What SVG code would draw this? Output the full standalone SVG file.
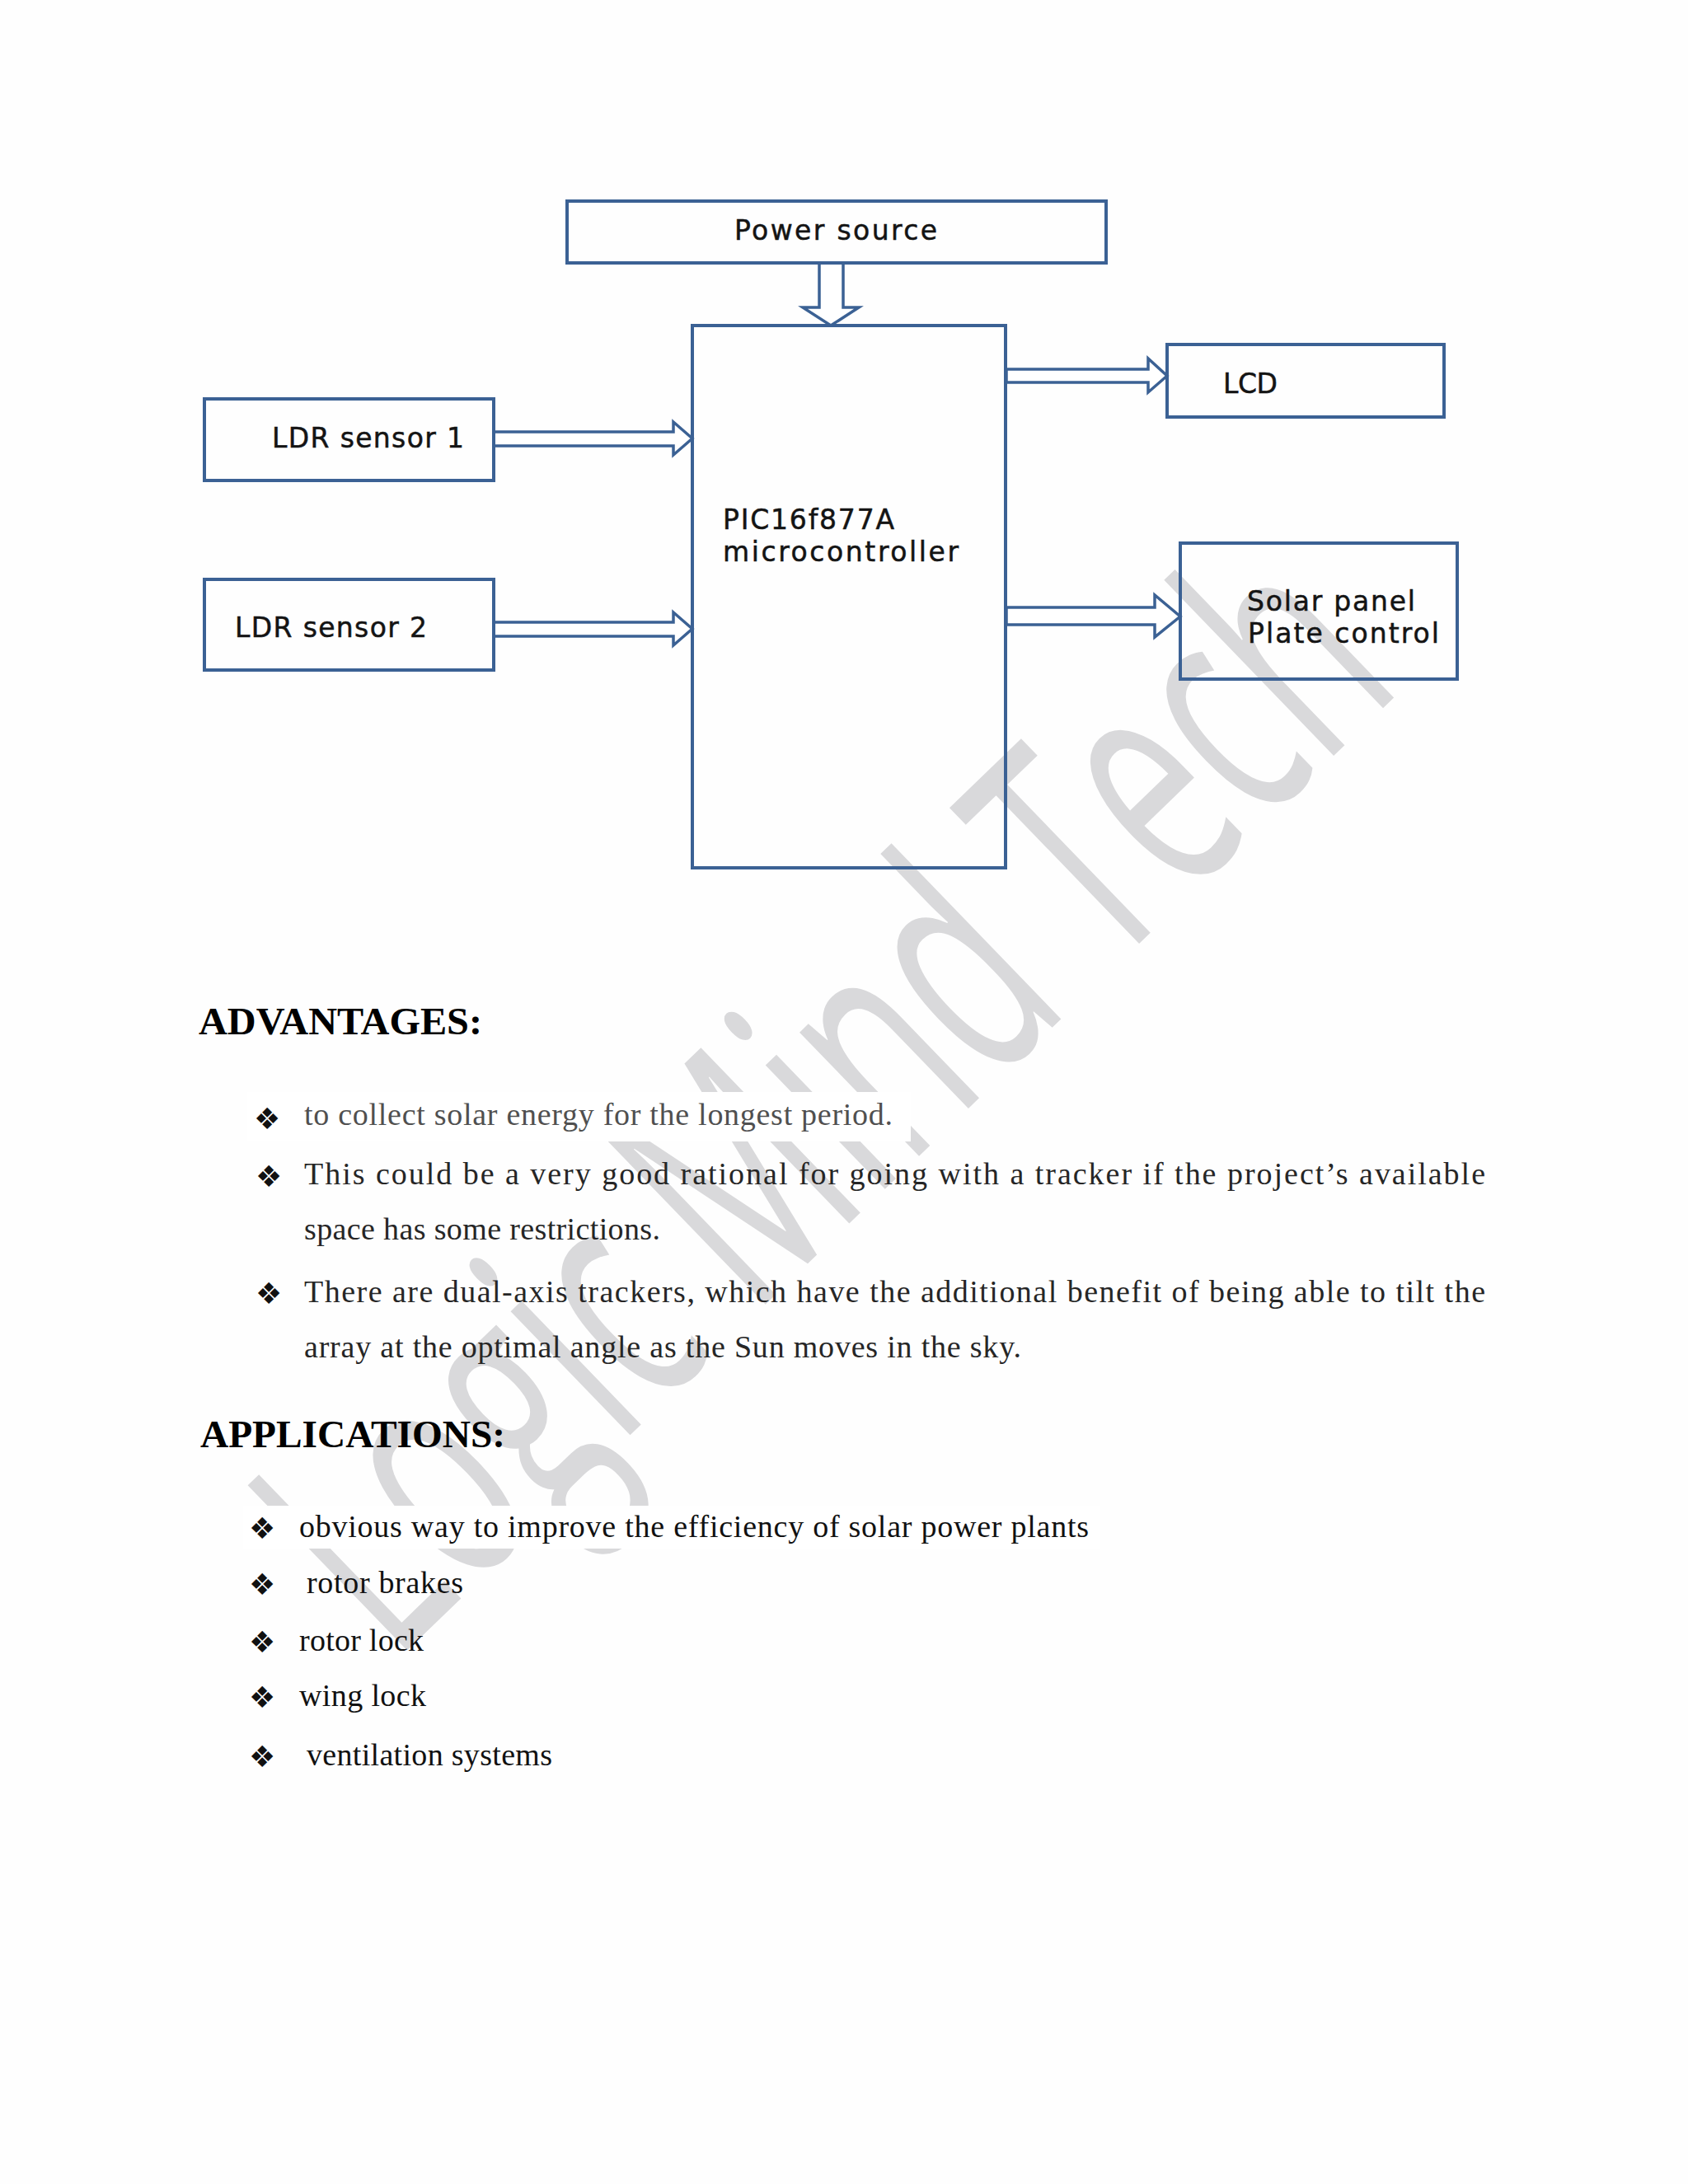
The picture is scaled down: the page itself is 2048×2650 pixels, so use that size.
<svg xmlns="http://www.w3.org/2000/svg" width="2048" height="2650" viewBox="0 0 2048 2650">
<style>
.box{fill:none;stroke:#3B6194;stroke-width:4}
.arr{fill:#ffffff;stroke:#3B6194;stroke-width:3.5;stroke-linejoin:miter}
.lbl{font-family:"DejaVu Sans",Verdana,sans-serif;font-size:33px;fill:#141414;stroke:#141414;stroke-width:0.5}
.hd{font-family:"Liberation Serif","Times New Roman",serif;font-weight:bold;font-size:46px;fill:#000000}
.bd{font-family:"Liberation Serif","Times New Roman",serif;font-size:38px;fill:#262626}
.bul{font-family:"DejaVu Sans",sans-serif;font-size:36px;fill:#111111}
.wm{font-family:"Open Sans","Liberation Sans",sans-serif;font-size:390px;fill:#d9d9db}
</style>
<rect x="0" y="0" width="2048" height="2650" fill="#fefefe"/>
<g id="watermark">
<text class="wm" transform="translate(478,2018) rotate(-44)" textLength="1705" lengthAdjust="spacingAndGlyphs">Logic Mind Tech</text>
</g>
<rect x="300" y="1325" width="805" height="60" fill="#ffffff"/>
<rect x="295" y="1827" width="1040" height="52" fill="#ffffff"/>
<g id="connectors">
<polygon class="arr" points="994,319 994,373 974,373 1008,395 1042,373 1023,373 1023,319"/>
<polygon class="arr" points="599,524 817,524 817,512 840,532 817,552 817,541 599,541"/>
<polygon class="arr" points="599,755 817,755 817,743 840,763 817,783 817,772 599,772"/>
<polygon class="arr" points="1221,448 1393,448 1393,435 1416,456 1393,476 1393,464 1221,464"/>
<polygon class="arr" points="1221,737 1401,737 1401,722 1432,748 1401,773 1401,758 1221,758"/>
</g>
<g id="power-source">
<rect class="box" x="688" y="244" width="654" height="75"/>
<text class="lbl" x="891" y="291" textLength="246" lengthAdjust="spacing">Power source</text>
</g>
<g id="microcontroller">
<rect class="box" x="840" y="395" width="380" height="658"/>
<text class="lbl" x="877" y="642" textLength="208" lengthAdjust="spacing">PIC16f877A</text>
<text class="lbl" x="877" y="681" textLength="286" lengthAdjust="spacing">microcontroller</text>
</g>
<g id="ldr1">
<rect class="box" x="248" y="484" width="351" height="99"/>
<text class="lbl" x="330" y="543" textLength="233" lengthAdjust="spacing">LDR sensor 1</text>
</g>
<g id="ldr2">
<rect class="box" x="248" y="703" width="351" height="110"/>
<text class="lbl" x="285" y="773" textLength="233" lengthAdjust="spacing">LDR sensor 2</text>
</g>
<g id="lcd">
<rect class="box" x="1416" y="418" width="336" height="88"/>
<text class="lbl" x="1484" y="477" textLength="66" lengthAdjust="spacing">LCD</text>
</g>
<g id="solar-panel">
<rect class="box" x="1432" y="659" width="336" height="165"/>
<text class="lbl" x="1513" y="741" textLength="204" lengthAdjust="spacing">Solar panel</text>
<text class="lbl" x="1514" y="780" textLength="232" lengthAdjust="spacing">Plate control</text>
</g>
<g id="advantages">
<text class="hd" x="241" y="1255" textLength="344" lengthAdjust="spacingAndGlyphs">ADVANTAGES:</text>
<text class="bul" x="308" y="1370">❖</text>
<text class="bd" x="369" y="1365" textLength="714" lengthAdjust="spacing" style="fill:#505050">to collect  solar energy  for the longest  period.</text>
<text class="bul" x="310" y="1440">❖</text>
<text class="bd" x="369" y="1437" textLength="1433" lengthAdjust="spacing">This could be a very good rational for going with a tracker if the project’s available</text>
<text class="bd" x="369" y="1504" textLength="432" lengthAdjust="spacing">space has some restrictions.</text>
<text class="bul" x="310" y="1582">❖</text>
<text class="bd" x="369" y="1580" textLength="1433" lengthAdjust="spacing">There are dual-axis trackers, which have the additional benefit of being able to tilt the</text>
<text class="bd" x="369" y="1647" textLength="870" lengthAdjust="spacing">array at the optimal  angle  as the Sun moves  in the sky.</text>
</g>
<g id="applications">
<text class="hd" x="243" y="1756" textLength="370" lengthAdjust="spacingAndGlyphs">APPLICATIONS:</text>
<text class="bul" x="302" y="1867">❖</text>
<text class="bd" x="363" y="1865" textLength="958" lengthAdjust="spacing" style="fill:#111111">obvious  way to improve  the efficiency  of solar power plants</text>
<text class="bul" x="302" y="1935">❖</text>
<text class="bd" x="372" y="1933" textLength="190" lengthAdjust="spacing" style="fill:#111111">rotor brakes</text>
<text class="bul" x="302" y="2005">❖</text>
<text class="bd" x="363" y="2003" textLength="151" lengthAdjust="spacing" style="fill:#111111">rotor lock</text>
<text class="bul" x="302" y="2072">❖</text>
<text class="bd" x="363" y="2070" textLength="154" lengthAdjust="spacing" style="fill:#111111">wing  lock</text>
<text class="bul" x="302" y="2144">❖</text>
<text class="bd" x="372" y="2142" textLength="298" lengthAdjust="spacing" style="fill:#111111">ventilation  systems</text>
</g>
</svg>
